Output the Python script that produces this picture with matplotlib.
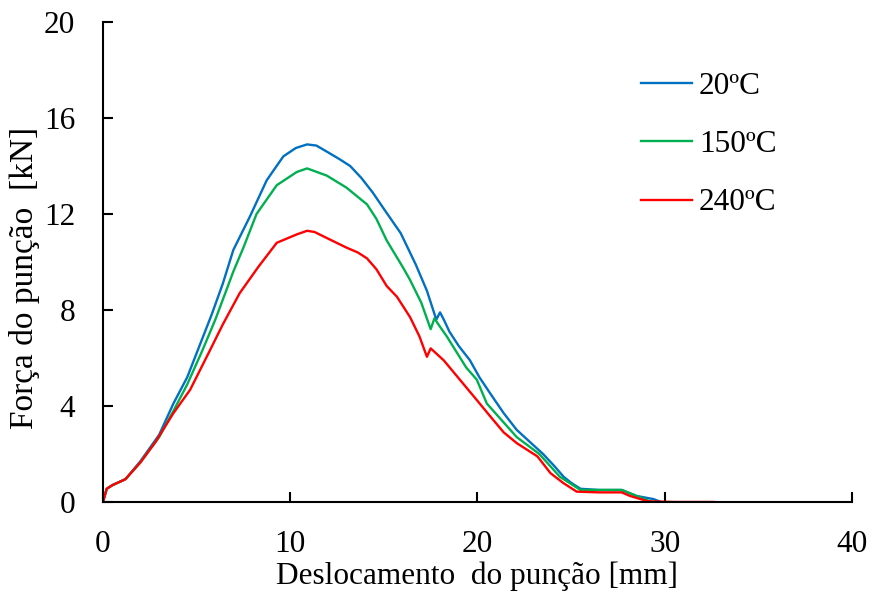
import matplotlib
matplotlib.use("Agg")
import matplotlib.pyplot as plt

plt.rcParams["font.family"] = ["Liberation Serif", "DejaVu Serif"]
plt.rcParams["font.size"] = 22.5

# 20ºC
x_20 = [0, 0.2, 0.5, 1.2, 2.0, 3.0, 3.76, 4.5, 5.2, 5.8, 6.4, 6.96, 7.85, 8.74, 9.63, 10.3,
        10.9, 11.4, 11.95, 12.6, 13.2, 13.8, 14.4, 15.1, 15.9, 16.7, 17.3, 17.8, 18.0, 18.2,
        18.5, 19.0, 19.6, 20.1, 20.7, 21.4, 22.1, 22.8, 23.5, 24.1, 24.6, 25.0, 25.5, 26.5,
        27.7, 28.5, 29.4, 29.8]
y_20 = [0, 0.55, 0.7, 0.95, 1.7, 2.8, 4.1, 5.2, 6.6, 7.8, 9.1, 10.5, 11.9, 13.4, 14.4, 14.75,
        14.9, 14.85, 14.6, 14.3, 14.0, 13.5, 12.9, 12.1, 11.2, 9.9, 8.8, 7.6, 7.9, 7.6,
        7.1, 6.5, 5.9, 5.2, 4.5, 3.7, 3.0, 2.5, 2.0, 1.5, 1.05, 0.8, 0.55, 0.5,
        0.5, 0.25, 0.12, 0.0]

# 150ºC
x_150 = [0, 0.2, 0.5, 1.2, 2.0, 3.0, 3.8, 4.5, 5.3, 6.0, 6.96, 7.5, 8.2, 9.28, 10.35, 10.9,
         11.95, 13.0, 14.1, 14.6, 15.15, 16.0, 16.4, 17.0, 17.5, 17.7, 18.0, 18.36, 19.4,
         19.96, 20.5, 21.3, 22.1, 23.3, 24.4, 25.5, 26.5, 27.7, 28.5, 29.3]
y_150 = [0, 0.55, 0.7, 0.95, 1.65, 2.7, 3.85, 4.9, 6.3, 7.6, 9.6, 10.6, 12.0, 13.2, 13.75, 13.9,
         13.6, 13.1, 12.4, 11.8, 10.9, 9.8, 9.25, 8.3, 7.2, 7.65, 7.3, 6.9, 5.6,
         5.1, 4.1, 3.4, 2.7, 2.0, 1.05, 0.5, 0.5, 0.5, 0.25, 0.0]

# 240ºC
x_240 = [0, 0.2, 0.5, 1.2, 2.0, 2.8, 3.76, 4.65, 5.7, 6.4, 7.3, 8.3, 9.28, 10.35, 10.9, 11.3,
         11.95, 13.0, 13.6, 14.1, 14.6, 15.15, 15.7, 16.4, 16.9, 17.3, 17.5, 18.2, 19.0,
         19.96, 20.7, 21.4, 22.1, 23.2, 23.9, 24.6, 25.3, 26.5, 27.7, 28.15, 29.1, 30.5, 32.6]
y_240 = [0, 0.55, 0.7, 0.95, 1.65, 2.5, 3.7, 4.67, 6.3, 7.4, 8.7, 9.8, 10.8, 11.15, 11.3, 11.25,
         11.0, 10.6, 10.4, 10.15, 9.7, 9.0, 8.55, 7.7, 6.9, 6.05, 6.4, 5.9, 5.15,
         4.25, 3.55, 2.9, 2.45, 1.9, 1.2, 0.78, 0.43, 0.4, 0.4, 0.25, 0.03, 0.0, 0.0]

series = [
    (x_20, y_20, "20ºC", "#0070C0"),
    (x_150, y_150, "150ºC", "#00B050"),
    (x_240, y_240, "240ºC", "#FF0000"),
]

fig = plt.figure(figsize=(8.75, 5.93), dpi=100)
ax = fig.add_axes([0.1177, 0.1535, 0.856, 0.8094])

for x, y, lab, c in series:
    ax.plot(x, y, color=c, lw=1.7, label=lab)

ax.set_xlim(0, 40)
ax.set_ylim(0, 20)
ax.set_xticks([0, 10, 20, 30, 40])
ax.set_yticks([0, 4, 8, 12, 16, 20])

for s in ("top", "right"):
    ax.spines[s].set_visible(False)
for s in ("left", "bottom"):
    ax.spines[s].set_linewidth(1.5)
ax.tick_params(direction="in", length=7, width=1.5, pad=20)

ax.set_xlabel("Deslocamento  do punção [mm]", labelpad=2)
ax.set_ylabel("Força do punção  [kN]", fontsize=24)
ax.yaxis.set_label_coords(-0.084, 0.467)

ax.legend(loc="upper left", bbox_to_anchor=(0.681, 0.955), frameon=False,
          handlelength=1.63, handletextpad=0.22, labelspacing=0.94)

fig.savefig("out.png", dpi=100)
